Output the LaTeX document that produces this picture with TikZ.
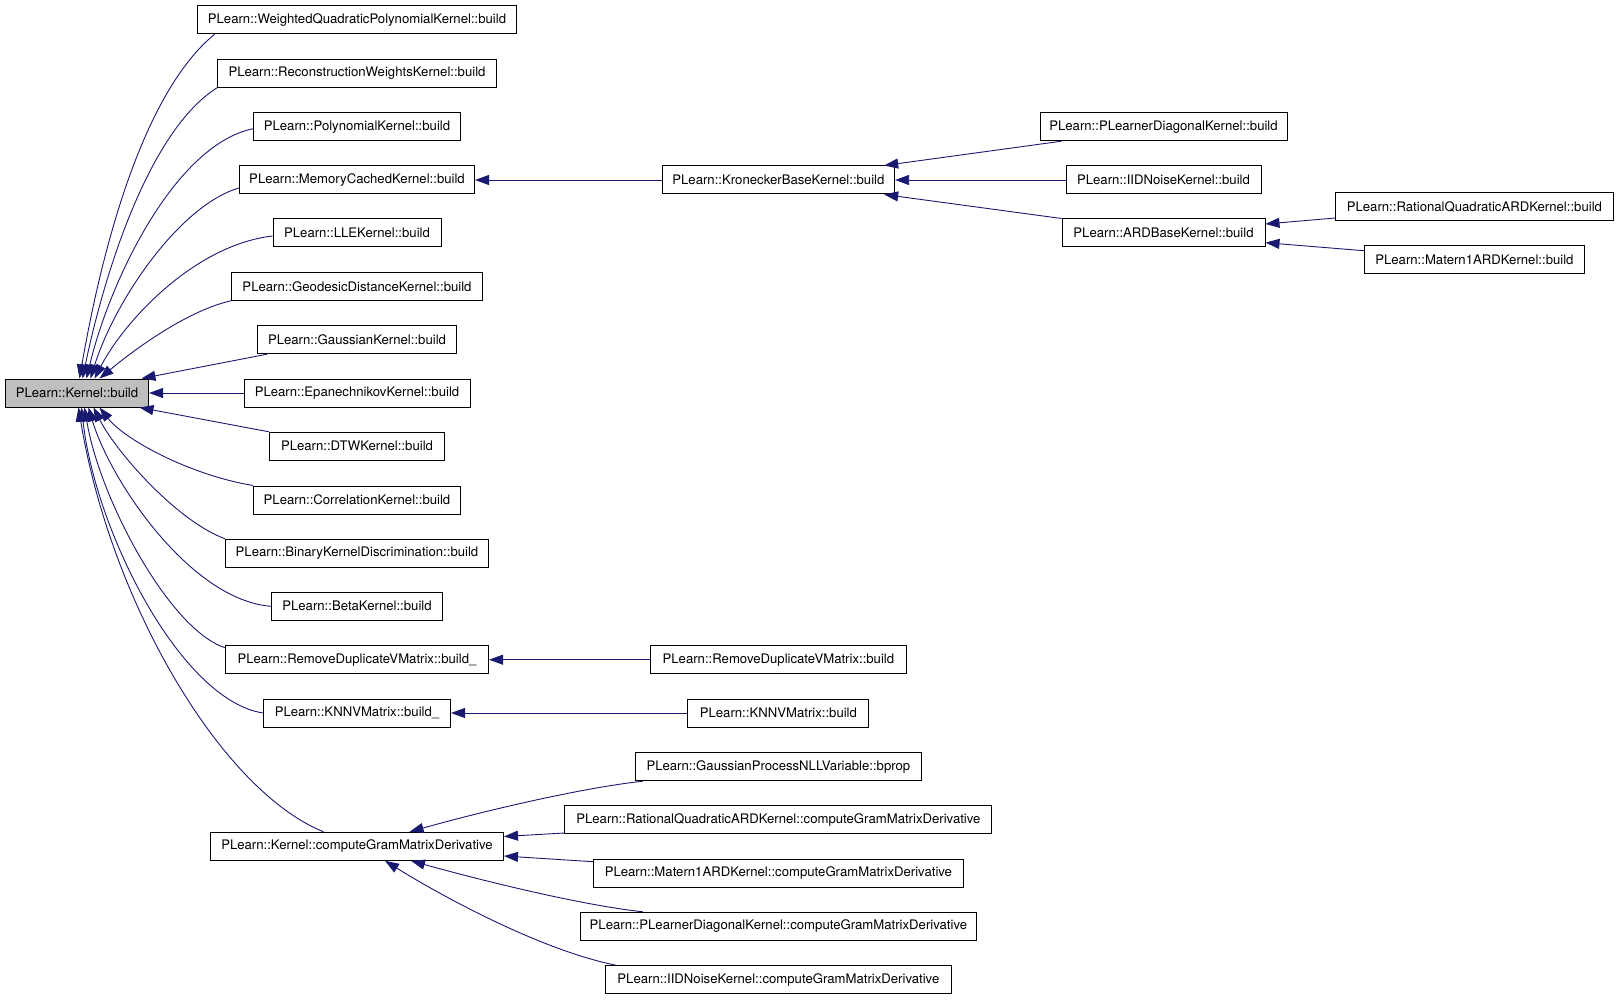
\documentclass[tikz,border=0pt]{standalone}
\usepackage{fontspec}
\setmainfont{TeX Gyre Heros}
\usetikzlibrary{arrows.meta}
\definecolor{edgec}{HTML}{191970}
\definecolor{nodegray}{HTML}{BFBFBF}
\begin{document}
\begin{tikzpicture}[x=1pt,y=-1pt,
  box/.style={draw=black, line width=1pt, fill=white, minimum height=28pt, inner sep=0pt, font=\fontsize{13.15}{15}\selectfont},
  edge/.style={draw=edgec, line width=0.9pt, {Triangle[length=14pt,width=10pt]}-}]
\useasboundingbox (0,0) rectangle (1619,1000);
% left column
\node[box, fill=nodegray, minimum width=143pt] (kb) at (77,393) {PLearn::Kernel::build};
\node[box, minimum width=319pt] (wq) at (357,19.7) {PLearn::WeightedQuadraticPolynomialKernel::build};
\node[box, minimum width=279pt] (rw) at (357,73.3) {PLearn::ReconstructionWeightsKernel::build};
\node[box, minimum width=207pt] (pk) at (357,126.7) {PLearn::PolynomialKernel::build};
\node[box, minimum width=235pt] (mc) at (357,180) {PLearn::MemoryCachedKernel::build};
\node[box, minimum width=168pt] (lle) at (357,233) {PLearn::LLEKernel::build};
\node[box, minimum width=251pt] (gd) at (357,286.3) {PLearn::GeodesicDistanceKernel::build};
\node[box, minimum width=199pt] (gk) at (357,339.7) {PLearn::GaussianKernel::build};
\node[box, minimum width=226pt] (ek) at (357,393) {PLearn::EpanechnikovKernel::build};
\node[box, minimum width=175pt] (dtw) at (357,446.3) {PLearn::DTWKernel::build};
\node[box, minimum width=207pt] (corr) at (357,500) {PLearn::CorrelationKernel::build};
\node[box, minimum width=263pt] (bkd) at (357,553.3) {PLearn::BinaryKernelDiscrimination::build};
\node[box, minimum width=171pt] (beta) at (357,606.3) {PLearn::BetaKernel::build};
\node[box, minimum width=263pt] (rdvu) at (357,659.7) {PLearn::RemoveDuplicateVMatrix::build\_};
\node[box, minimum width=187pt] (knnu) at (357,713) {PLearn::KNNVMatrix::build\_};
\node[box, minimum width=293pt] (cg) at (357,846.3) {PLearn::Kernel::computeGramMatrixDerivative};
% middle column
\node[box, minimum width=232.5pt] (kron) at (778.4,180) {PLearn::KroneckerBaseKernel::build};
\node[box, minimum width=255.5pt] (rdv) at (778.4,659.7) {PLearn::RemoveDuplicateVMatrix::build};
\node[box, minimum width=181pt] (knn) at (778.4,713) {PLearn::KNNVMatrix::build};
\node[box, minimum width=286pt] (gp) at (778.4,766.7) {PLearn::GaussianProcessNLLVariable::bprop};
\node[box, minimum width=427pt] (rqc) at (778.4,819.7) {PLearn::RationalQuadraticARDKernel::computeGramMatrixDerivative};
\node[box, minimum width=370pt] (matc) at (778.4,873) {PLearn::Matern1ARDKernel::computeGramMatrixDerivative};
\node[box, minimum width=396pt] (pldc) at (778.4,926.3) {PLearn::PLearnerDiagonalKernel::computeGramMatrixDerivative};
\node[box, minimum width=346pt] (iidc) at (778.4,979.7) {PLearn::IIDNoiseKernel::computeGramMatrixDerivative};
% right columns
\node[box, minimum width=247pt] (pld) at (1163.5,126.7) {PLearn::PLearnerDiagonalKernel::build};
\node[box, minimum width=195pt] (iid) at (1163.5,180) {PLearn::IIDNoiseKernel::build};
\node[box, minimum width=203pt] (ard) at (1163.5,233) {PLearn::ARDBaseKernel::build};
\node[box, minimum width=277.5pt] (rqa) at (1474.4,206.5) {PLearn::RationalQuadraticARDKernel::build};
\node[box, minimum width=220pt] (mat) at (1474.4,259.7) {PLearn::Matern1ARDKernel::build};
% edges into Kernel::build (top)
\draw[edge] ([xshift=74.5pt]kb.north west) .. controls (100,260) and (140,95) .. ([xshift=17.7pt]wq.south west);
\draw[edge] ([xshift=77.5pt]kb.north west) .. controls (105,270) and (150,130) .. (rw.south west);
\draw[edge] ([xshift=81.5pt]kb.north west) .. controls (110,280) and (175,145) .. ([yshift=-2pt]pk.west);
\draw[edge] ([xshift=85.5pt]kb.north west) .. controls (115,300) and (180,205) .. ([yshift=-8pt]mc.west);
\draw[edge] ([xshift=89.5pt]kb.north west) .. controls (125,320) and (195,245) .. ([yshift=-3pt]lle.west);
\draw[edge] ([xshift=94.5pt]kb.north west) .. controls (140,345) and (190,310) .. (gd.south west);
\draw[edge] ([xshift=136.5pt]kb.north west) -- ([xshift=10pt]gk.south west);
\draw[edge] (kb.east) -- (ek.west);
% edges into Kernel::build (bottom)
\draw[edge] ([xshift=134.5pt]kb.south west) -- (dtw.north west);
\draw[edge] ([xshift=94.5pt]kb.south west) .. controls (125,440) and (190,475) .. (corr.north west);
\draw[edge] ([xshift=88.5pt]kb.south west) .. controls (115,450) and (175,520) .. (bkd.north west);
\draw[edge] ([xshift=83.5pt]kb.south west) .. controls (110,480) and (190,600) .. (beta.west);
\draw[edge] ([xshift=79.5pt]kb.south west) .. controls (100,500) and (170,630) .. ([yshift=12pt]rdvu.west);
\draw[edge] ([xshift=76.5pt]kb.south west) .. controls (95,530) and (180,700) .. (knnu.west);
\draw[edge] ([xshift=73.5pt]kb.south west) .. controls (110,600) and (220,790) .. ([xshift=113.6pt]cg.north west);
% other edges
\draw[edge] (mc.east) -- (kron.west);
\draw[edge] ([xshift=-11pt]kron.north east) -- ([xshift=22pt]pld.south west);
\draw[edge] (kron.east) -- (iid.west);
\draw[edge] ([xshift=-11pt]kron.south east) -- (ard.north west);
\draw[edge] ([yshift=9pt]ard.east) -- ([yshift=-11.5pt]rqa.west);
\draw[edge] ([yshift=-9.7pt]ard.east) -- ([yshift=9pt]mat.west);
\draw[edge] (rdvu.east) -- (rdv.west);
\draw[edge] (knnu.east) -- (knn.west);
\draw[edge] ([xshift=199.6pt]cg.north west) .. controls (480,812) and (580,788) .. ([xshift=8pt]gp.south west);
\draw[edge] ([yshift=9.8pt]cg.east) -- ([yshift=-13.3pt]rqc.west);
\draw[edge] ([yshift=-9.7pt]cg.east) -- ([yshift=11.3pt]matc.west);
\draw[edge] ([xshift=201pt]cg.south west) .. controls (480,880) and (580,905) .. ([xshift=63pt]pldc.north west);
\draw[edge] ([xshift=175pt]cg.south west) .. controls (440,895) and (540,950) .. ([xshift=11pt]iidc.north west);
\end{tikzpicture}
\end{document}
